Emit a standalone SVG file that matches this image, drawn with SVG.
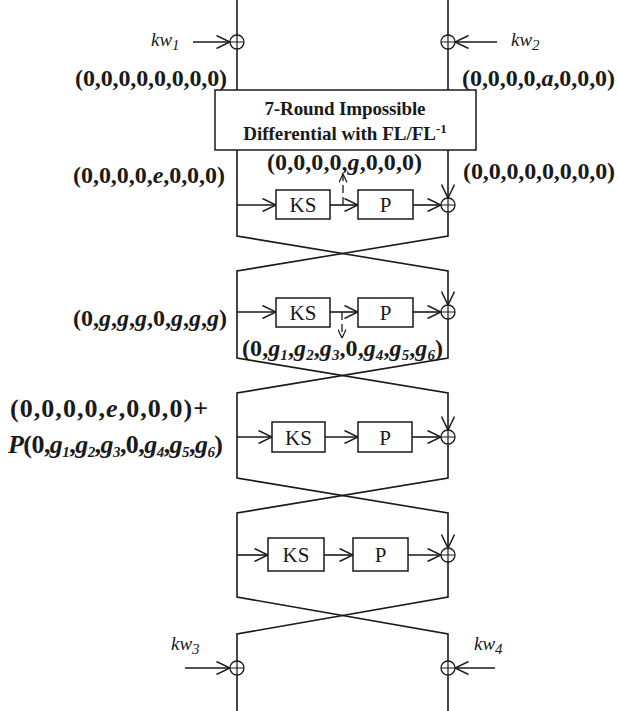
<svg xmlns="http://www.w3.org/2000/svg" width="618" height="711" viewBox="0 0 618 711">
<defs>
<style>
.ln{fill:none;stroke:#1a1a1a;stroke-width:1.6}
.dl{fill:none;stroke:#1a1a1a;stroke-width:1.3;stroke-dasharray:8,4}
.bx{fill:#fff;stroke:#1a1a1a;stroke-width:1.5}
.xc{fill:#fff;stroke:#1a1a1a;stroke-width:1.3}
.lab{font-family:"Liberation Serif","Times New Roman",serif;font-weight:bold;font-size:24px;fill:#1a1a1a}
.big{font-size:26px}
.op{font-family:"Liberation Serif","Times New Roman",serif;font-size:21px;fill:#1a1a1a;text-anchor:middle}
.ttl{font-family:"Liberation Serif","Times New Roman",serif;font-weight:bold;font-size:19px;fill:#1a1a1a;text-anchor:middle}
.kw{font-family:"Liberation Serif","Times New Roman",serif;font-style:italic;font-size:19px;fill:#1a1a1a}
.it{font-style:italic}
.sub{font-size:15px}
</style>
<marker id="ah" viewBox="0 0 14 14" refX="14" refY="7" markerWidth="14" markerHeight="14" markerUnits="userSpaceOnUse" orient="auto">
<path d="M0.5,0.5 L14,7 L0.5,13.5" fill="none" stroke="#1a1a1a" stroke-width="1.5"/>
</marker>
<marker id="sh" viewBox="0 0 9 9" refX="9" refY="4.5" markerWidth="9" markerHeight="9" markerUnits="userSpaceOnUse" orient="auto">
<path d="M0.5,0.5 L9,4.5 L0.5,8.5" fill="none" stroke="#1a1a1a" stroke-width="1.2"/>
</marker>
<g id="xor-sym"><circle class="xc" r="7"/><path class="ln" d="M-7,0 H7 M0,-7 V7" style="stroke-width:1.2"/></g>
</defs>

<g id="connectors">
<path class="ln" d="M237,0 V90"/>
<path class="ln" d="M448,0 V90"/>
<path class="ln" d="M237,150 V236 L448,271 V305" marker-end="url(#ah)"/>
<path class="ln" d="M448,150 V198" marker-end="url(#ah)"/>
<path class="ln" d="M448,212 V236 L237,271 V358 L448,393 V430" marker-end="url(#ah)"/>
<path class="ln" d="M448,319 V358 L237,393 V478 L448,513 V548" marker-end="url(#ah)"/>
<path class="ln" d="M448,444 V478 L237,513 V597 L448,634 V711"/>
<path class="ln" d="M448,562 V597 L237,634 V711"/>
<path class="ln" d="M193,42 H230" marker-end="url(#ah)"/>
<path class="ln" d="M497,42 H455" marker-end="url(#ah)"/>
<path class="ln" d="M185,668 H230" marker-end="url(#ah)"/>
<path class="ln" d="M495,668 H455" marker-end="url(#ah)"/>
<path class="ln" d="M237,205 H276" marker-end="url(#ah)"/>
<path class="ln" d="M330,205 H358" marker-end="url(#ah)"/>
<path class="ln" d="M413,205 H441" marker-end="url(#ah)"/>
<path class="ln" d="M237,312 H276" marker-end="url(#ah)"/>
<path class="ln" d="M330,312 H358" marker-end="url(#ah)"/>
<path class="ln" d="M413,312 H441" marker-end="url(#ah)"/>
<path class="ln" d="M237,437 H272" marker-end="url(#ah)"/>
<path class="ln" d="M325,437 H358" marker-end="url(#ah)"/>
<path class="ln" d="M412,437 H441" marker-end="url(#ah)"/>
<path class="ln" d="M237,555 H268" marker-end="url(#ah)"/>
<path class="ln" d="M324,555 H353" marker-end="url(#ah)"/>
<path class="ln" d="M408,555 H441" marker-end="url(#ah)"/>
<path class="dl" d="M343,205 V174" marker-end="url(#sh)"/>
<path class="dl" d="M342,312 V338" marker-end="url(#sh)"/>
</g>

<g id="impossible-box">
<rect class="bx" x="215" y="90" width="261" height="60"/>
<text class="ttl" x="345" y="115" textLength="161" lengthAdjust="spacing">7-Round Impossible</text>
<text class="ttl" x="345" y="140">Differential with FL/FL<tspan font-size="13" dy="-7">-1</tspan></text>
</g>

<g id="xor-kw1"><use href="#xor-sym" x="237" y="42"/></g>
<g id="xor-kw2"><use href="#xor-sym" x="448" y="42"/></g>
<g id="xor-r1"><use href="#xor-sym" x="448" y="205"/></g>
<g id="xor-r2"><use href="#xor-sym" x="448" y="312"/></g>
<g id="xor-r3"><use href="#xor-sym" x="448" y="437"/></g>
<g id="xor-r4"><use href="#xor-sym" x="448" y="555"/></g>
<g id="xor-kw3"><use href="#xor-sym" x="237" y="668"/></g>
<g id="xor-kw4"><use href="#xor-sym" x="448" y="668"/></g>

<g id="ks-r1"><rect class="bx" x="276" y="190" width="54" height="29"/><text class="op" x="303" y="212">KS</text></g>
<g id="p-r1"><rect class="bx" x="358" y="190" width="55" height="29"/><text class="op" x="385.5" y="212">P</text></g>
<g id="ks-r2"><rect class="bx" x="276" y="298" width="54" height="29"/><text class="op" x="303" y="320">KS</text></g>
<g id="p-r2"><rect class="bx" x="358" y="298" width="55" height="29"/><text class="op" x="385.5" y="320">P</text></g>
<g id="ks-r3"><rect class="bx" x="272" y="422" width="53" height="30"/><text class="op" x="298.5" y="445">KS</text></g>
<g id="p-r3"><rect class="bx" x="358" y="422" width="54" height="30"/><text class="op" x="385" y="445">P</text></g>
<g id="ks-r4"><rect class="bx" x="268" y="538" width="56" height="33"/><text class="op" x="296" y="562">KS</text></g>
<g id="p-r4"><rect class="bx" x="353" y="538" width="55" height="33"/><text class="op" x="380.5" y="562">P</text></g>

<g id="kw-labels">
<text class="kw" x="151" y="46">kw<tspan class="sub" dy="4">1</tspan></text>
<text class="kw" x="511" y="46">kw<tspan class="sub" dy="4">2</tspan></text>
<text class="kw" x="171" y="650">kw<tspan class="sub" dy="4">3</tspan></text>
<text class="kw" x="474" y="650">kw<tspan class="sub" dy="4">4</tspan></text>
</g>

<g id="diff-labels">
<text class="lab" x="75" y="86" textLength="152" lengthAdjust="spacing">(0,0,0,0,0,0,0,0)</text>
<text class="lab" x="462" y="86" textLength="153" lengthAdjust="spacing">(0,0,0,0,<tspan class="it">a</tspan>,0,0,0)</text>
<text class="lab" x="267" y="170" textLength="155" lengthAdjust="spacing">(0,0,0,0,<tspan class="it">g</tspan>,0,0,0)</text>
<text class="lab" x="463" y="179" textLength="152" lengthAdjust="spacing">(0,0,0,0,0,0,0,0)</text>
<text class="lab" x="73" y="183" textLength="152" lengthAdjust="spacing">(0,0,0,0,<tspan class="it">e</tspan>,0,0,0)</text>
<text class="lab" x="73" y="326" textLength="154" lengthAdjust="spacing">(0,<tspan class="it">g</tspan>,<tspan class="it">g</tspan>,<tspan class="it">g</tspan>,0,<tspan class="it">g</tspan>,<tspan class="it">g</tspan>,<tspan class="it">g</tspan>)</text>
<text class="lab" x="242" y="356" textLength="201" lengthAdjust="spacing">(0,<tspan class="it">g</tspan><tspan class="it sub" dy="4">1</tspan><tspan dy="-4">,</tspan><tspan class="it">g</tspan><tspan class="it sub" dy="4">2</tspan><tspan dy="-4">,</tspan><tspan class="it">g</tspan><tspan class="it sub" dy="4">3</tspan><tspan dy="-4">,0,</tspan><tspan class="it">g</tspan><tspan class="it sub" dy="4">4</tspan><tspan dy="-4">,</tspan><tspan class="it">g</tspan><tspan class="it sub" dy="4">5</tspan><tspan dy="-4">,</tspan><tspan class="it">g</tspan><tspan class="it sub" dy="4">6</tspan><tspan dy="-4">)</tspan></text>
<text class="lab big" x="10" y="417" textLength="198" lengthAdjust="spacing">(0,0,0,0,<tspan class="it">e</tspan>,0,0,0)+</text>
<text class="lab big" x="8" y="453" textLength="215" lengthAdjust="spacing"><tspan class="it">P</tspan>(0,<tspan class="it">g</tspan><tspan class="it sub" dy="4">1</tspan><tspan dy="-4">,</tspan><tspan class="it">g</tspan><tspan class="it sub" dy="4">2</tspan><tspan dy="-4">,</tspan><tspan class="it">g</tspan><tspan class="it sub" dy="4">3</tspan><tspan dy="-4">,0,</tspan><tspan class="it">g</tspan><tspan class="it sub" dy="4">4</tspan><tspan dy="-4">,</tspan><tspan class="it">g</tspan><tspan class="it sub" dy="4">5</tspan><tspan dy="-4">,</tspan><tspan class="it">g</tspan><tspan class="it sub" dy="4">6</tspan><tspan dy="-4">)</tspan></text>
</g>
</svg>
